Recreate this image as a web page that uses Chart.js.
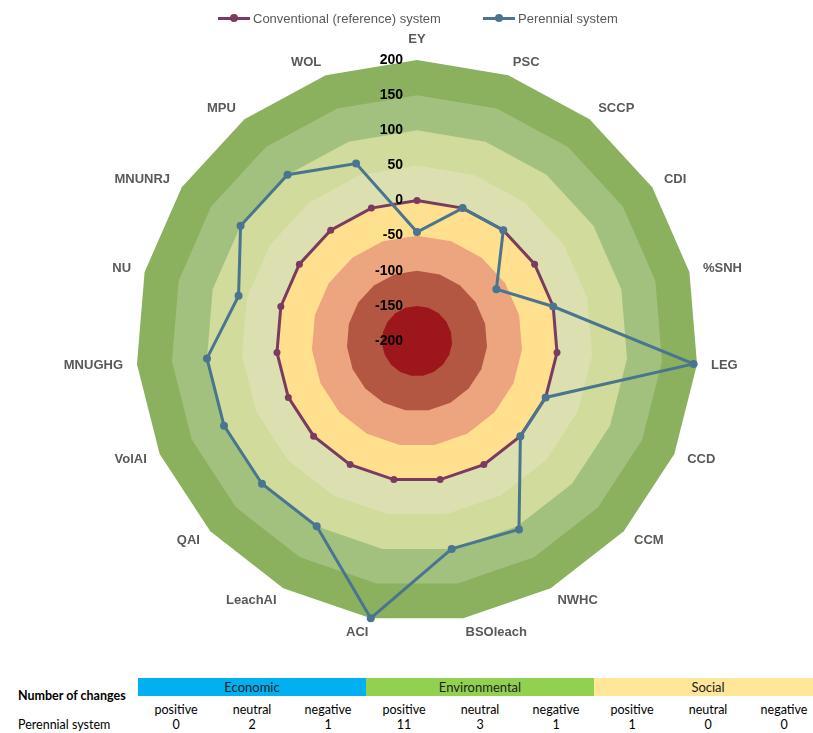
<!DOCTYPE html>
<html>
<head>
<meta charset="utf-8">
<title>Perennial vs conventional system</title>
<script src="https://cdn.jsdelivr.net/npm/chart.js@4.4.1/dist/chart.umd.min.js"></script>
<style>
  html, body { margin: 0; padding: 0; background: #fff; }
  body { width: 813px; height: 733px; position: relative; overflow: hidden;
         font-family: "Liberation Sans", Arial, sans-serif; }
  #chart { position: absolute; left: 0; top: 0; }
  .legend-item { position: absolute; top: 10px; height: 16px; display: flex; align-items: center;
                 font-size: 13px; color: #595959; white-space: nowrap; }
  .mk { position: relative; width: 32px; height: 16px; margin-right: 3px; }
  .mk .ln { position: absolute; left: 0; right: 0; top: 6.5px; height: 3px; }
  .mk .dt { position: absolute; left: 12px; top: 4px; width: 8px; height: 8px; border-radius: 50%; }
  .cell { position: absolute; width: 76px; text-align: center; line-height: 14px;
          font-family: Lato, "Liberation Sans", sans-serif; font-size: 12.5px; color: #000; }
  .strip { position: absolute; top: 678px; height: 18px; width: 228px; line-height: 18px; text-align: center;
           font-family: Lato, "Liberation Sans", sans-serif; font-size: 13px; color: #222; }
  .rowhead { position: absolute; left: 18px; line-height: 14px; white-space: nowrap;
             font-family: Lato, "Liberation Sans", sans-serif; font-size: 12.5px; color: #000; }
</style>
</head>
<body>
<canvas id="chart" width="813" height="665"></canvas>
<div id="legend"></div>
<div id="changes"></div>
<script>
// Indicators around the radar (clockwise from the top)
const categories = ['EY', 'PSC', 'SCCP', 'CDI', '%SNH', 'LEG', 'CCD', 'CCM', 'NWHC', 'BSOleach',
                    'ACI', 'LeachAI', 'QAI', 'VolAI', 'MNUGHG', 'NU', 'MNUNRJ', 'MPU', 'WOL'];

// Relative scores (%) of each system
const conventional = [0, 0, 0, 0, 0, 0, 0, 0, 0, 0, 0, 0, 0, 0, 0, 0, 0, 0, 0];
const perennial    = [-45, 0, 0, -65, 0, 195, 0, 0, 105, 100, 200, 100, 100, 100, 100, 62, 100, 100, 67];

// Radial tick labels
const tickValues = [200, 150, 100, 50, 0, -50, -100, -150, -200];

// Background rings: outer bound of each ring and its colour
const bandLevels = [200, 150, 100, 50, 0, -50, -100, -150];
const bandColors = ['#8bb05e', '#a3c17e', '#d1db9b', '#dce0b0', '#ffe08f', '#eca57f', '#b35742', '#9c161b'];

// Summary table
const groups = ['Economic', 'Environmental', 'Social'];
const groupColors = ['#00b0f0', '#92d050', '#ffe699'];
const changeKinds = ['positive', 'neutral', 'negative'];
const perennialChanges = [0, 2, 1, 11, 3, 1, 1, 0, 0];

const conventionalColor = '#7b3a5f';
const perennialColor = '#4a7590';

// Concentric coloured rings drawn behind the series
const ringsPlugin = {
  id: 'rings',
  beforeDatasetsDraw(chart) {
    const r = chart.scales.r;
    const ctx = chart.ctx;
    ctx.save();
    bandLevels.forEach((lvl, k) => {
      ctx.beginPath();
      categories.forEach((_, i) => {
        const p = r.getPointPositionForValue(i, lvl);
        if (i === 0) ctx.moveTo(p.x, p.y); else ctx.lineTo(p.x, p.y);
      });
      ctx.closePath();
      ctx.fillStyle = bandColors[k];
      ctx.fill();
    });
    ctx.restore();
  }
};

// Tick values along the top spoke and the indicator names
const textPlugin = {
  id: 'radarText',
  afterDatasetsDraw(chart) {
    const r = chart.scales.r;
    const ctx = chart.ctx;
    ctx.save();
    ctx.font = 'bold 14px "Liberation Sans", Arial, sans-serif';
    ctx.fillStyle = '#000';
    ctx.textAlign = 'right';
    ctx.textBaseline = 'middle';
    tickValues.forEach(v => {
      ctx.fillText(String(v), r.xCenter - 14, r.yCenter - r.getDistanceFromCenterForValue(v));
    });

    ctx.font = 'bold 13px "Liberation Sans", Arial, sans-serif';
    ctx.fillStyle = '#595959';
    categories.forEach((name, i) => {
      const p = r.getPointPosition(i, r.drawingArea + 14);
      const dx = p.x - r.xCenter;
      if (Math.abs(dx) < 1) {
        ctx.textAlign = 'center';
        ctx.textBaseline = p.y < r.yCenter ? 'bottom' : 'top';
      } else {
        ctx.textAlign = dx > 0 ? 'left' : 'right';
        ctx.textBaseline = 'middle';
      }
      ctx.fillText(name, p.x, p.y);
    });
    ctx.restore();
  }
};

new Chart(document.getElementById('chart'), {
  type: 'radar',
  data: {
    labels: categories,
    datasets: [
      {
        label: 'Perennial system',
        data: perennial,
        borderColor: perennialColor,
        backgroundColor: perennialColor,
        pointBackgroundColor: perennialColor,
        pointBorderColor: perennialColor,
        borderWidth: 3,
        pointRadius: 4,
        pointBorderWidth: 0,
        fill: false,
        order: 0
      },
      {
        label: 'Conventional (reference) system',
        data: conventional,
        borderColor: conventionalColor,
        backgroundColor: conventionalColor,
        pointBackgroundColor: conventionalColor,
        pointBorderColor: conventionalColor,
        borderWidth: 3,
        pointRadius: 3.5,
        pointBorderWidth: 0,
        fill: false,
        order: 1
      }
    ]
  },
  options: {
    responsive: false,
    animation: false,
    layout: { padding: { left: 136, right: 115, top: 60, bottom: 43 } },
    plugins: { legend: { display: false }, tooltip: { enabled: false } },
    elements: { line: { tension: 0 } },
    scales: {
      r: {
        min: -200,
        max: 200,
        ticks: { display: false, stepSize: 50 },
        grid: { display: false },
        angleLines: { display: false },
        pointLabels: { display: false }
      }
    }
  },
  plugins: [ringsPlugin, textPlugin]
});

// Legend
const legend = document.getElementById('legend');
[[218, conventionalColor, 'Conventional (reference) system'],
 [483, perennialColor, 'Perennial system']].forEach(([x, color, text]) => {
  const item = document.createElement('div');
  item.className = 'legend-item';
  item.style.left = x + 'px';
  item.innerHTML = '<div class="mk"><div class="ln" style="background:' + color + '"></div>' +
                   '<div class="dt" style="background:' + color + '"></div></div><span>' + text + '</span>';
  legend.appendChild(item);
});

// Number of changes table
const tbl = document.getElementById('changes');
function add(cls, html, style) {
  const d = document.createElement('div');
  d.className = cls;
  d.innerHTML = html;
  Object.assign(d.style, style);
  tbl.appendChild(d);
}
add('rowhead', '<b>Number of changes</b>', { top: '689px', fontSize: '12.5px' });
add('rowhead', 'Perennial system', { top: '718px' });
groups.forEach((g, gi) => {
  add('strip', g, { left: (138 + gi * 228) + 'px', background: groupColors[gi] });
  changeKinds.forEach((k, ki) => {
    const col = gi * 3 + ki;
    const left = (138 + col * 76) + 'px';
    add('cell', k, { left, top: '703px' });
    add('cell', String(perennialChanges[col]), { left, top: '718px' });
  });
});
</script>
</body>
</html>
